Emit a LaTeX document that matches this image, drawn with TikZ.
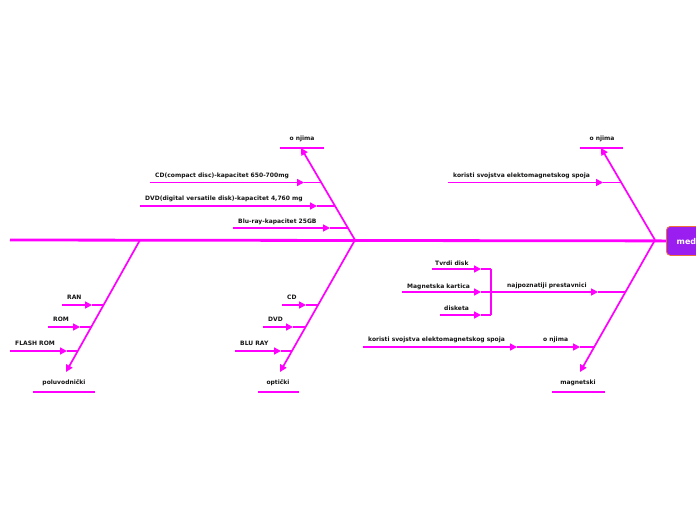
\documentclass[tikz,border=0pt]{standalone}
\usepackage{fontspec}
\usetikzlibrary{arrows.meta}
\newfontfamily\lblfont{DejaVu Sans}
\definecolor{bonecol}{RGB}{255,0,255}
\definecolor{txtcol}{RGB}{20,20,20}
\definecolor{nodefill}{RGB}{155,30,240}
\definecolor{nodeedge}{RGB}{240,110,60}
\tikzset{
  spine/.style={bonecol, line width=2.8pt},
  bone/.style={bonecol, line width=1.7pt},
  twig/.style={bonecol, line width=1.5pt},
  tipped/.style={-{Triangle[length=7pt,width=7pt]}},
  lbl/.style={font=\lblfont\bfseries\fontsize{6}{7}\selectfont, text=txtcol, inner sep=0pt, anchor=base west},
  clbl/.style={lbl, anchor=base},
  topic/.style={rectangle, rounded corners=4pt, fill=nodefill, draw=nodeedge, line width=0.8pt, minimum height=29pt, minimum width=54pt, inner sep=0pt}
}
\begin{document}
\begin{tikzpicture}[x=1pt,y=-1pt]
\useasboundingbox (0,0) rectangle (696,520);
\clip (0,0) rectangle (696,520);
% central topic
\node[topic, anchor=north west] (center) at (666,226) {};
\node[font=\lblfont\bfseries\fontsize{8}{10}\selectfont, text=white, inner sep=0pt, anchor=base west] (centertxt) at (676.5,244.5) {med};
% spine
\coordinate (spineL) at (10,240);
\draw[spine] (spineL) -- (center.west);
% bone anchors
\coordinate (S1) at (355,240); \coordinate (T1) at (301,148);
\coordinate (S2) at (655,240); \coordinate (T2) at (601,148);
\coordinate (S3) at (140,240); \coordinate (T3) at (66,372);
\coordinate (S4) at (355,240); \coordinate (T4) at (280,372);
\coordinate (S5) at (655,240); \coordinate (T5) at (580,372);
\draw[bone,tipped] (S1) -- (T1);
\draw[bone,tipped] (S2) -- (T2);
\draw[bone,tipped] (S3) -- (T3);
\draw[bone,tipped] (S4) -- (T4);
\draw[bone,tipped] (S5) -- (T5);
% heads (underlines + labels)
\node[clbl] (h1) at (302,140.5) {o njima};
\coordinate (u1a) at (280,148); \coordinate (u1b) at (324,148);
\draw[twig] (u1a) -- (u1b);
\node[clbl] (h2) at (602,140.5) {o njima};
\coordinate (u2a) at (580,148); \coordinate (u2b) at (623,148);
\draw[twig] (u2a) -- (u2b);
\node[clbl] (h3) at (64,384.5) {poluvodnički};
\coordinate (u3a) at (33,392); \coordinate (u3b) at (95,392);
\draw[twig] (u3a) -- (u3b);
\node[clbl] (h4) at (278,384.5) {optički};
\coordinate (u4a) at (258,392); \coordinate (u4b) at (299,392);
\draw[twig] (u4a) -- (u4b);
\node[clbl] (h5) at (578,384.5) {magnetski};
\coordinate (u5a) at (552,392); \coordinate (u5b) at (605,392);
\draw[twig] (u5a) -- (u5b);
% upper optical twigs
\coordinate (a1) at (150,182.5); \coordinate (a1t) at (304,182.5); \coordinate (a1e) at (321,182.5);
\draw[twig,tipped] (a1) -- (a1t); \draw[twig] (a1t) -- (a1e);
\node[lbl] (la1) at (155,177.5) {CD(compact disc)-kapacitet 650-700mg};
\coordinate (a2) at (140,206); \coordinate (a2t) at (317,206); \coordinate (a2e) at (335,206);
\draw[twig,tipped] (a2) -- (a2t); \draw[twig] (a2t) -- (a2e);
\node[lbl] (la2) at (145,200.5) {DVD(digital versatile disk)-kapacitet 4,760 mg};
\coordinate (a3) at (233,228); \coordinate (a3t) at (330,228); \coordinate (a3e) at (348,228);
\draw[twig,tipped] (a3) -- (a3t); \draw[twig] (a3t) -- (a3e);
\node[lbl] (la3) at (238,223.5) {Blu-ray-kapacitet 25GB};
% upper magnetic twig
\coordinate (b1) at (448,182.5); \coordinate (b1t) at (603,182.5); \coordinate (b1e) at (621,182.5);
\draw[twig,tipped] (b1) -- (b1t); \draw[twig] (b1t) -- (b1e);
\node[lbl] (lb1) at (453,177.5) {koristi svojstva elektomagnetskog spoja};
% semiconductor twigs
\coordinate (c1) at (62,305); \coordinate (c1t) at (92,305); \coordinate (c1e) at (103.6,305);
\draw[twig,tipped] (c1) -- (c1t); \draw[twig] (c1t) -- (c1e);
\node[lbl] (lc1) at (67,299.5) {RAN};
\coordinate (c2) at (48,327); \coordinate (c2t) at (80,327); \coordinate (c2e) at (91.3,327);
\draw[twig,tipped] (c2) -- (c2t); \draw[twig] (c2t) -- (c2e);
\node[lbl] (lc2) at (53,321.5) {ROM};
\coordinate (c3) at (10,351); \coordinate (c3t) at (67,351); \coordinate (c3e) at (77.8,351);
\draw[twig,tipped] (c3) -- (c3t); \draw[twig] (c3t) -- (c3e);
\node[lbl] (lc3) at (15,345.5) {FLASH ROM};
% lower optical twigs
\coordinate (d1) at (282,305); \coordinate (d1t) at (306,305); \coordinate (d1e) at (318,305);
\draw[twig,tipped] (d1) -- (d1t); \draw[twig] (d1t) -- (d1e);
\node[lbl] (ld1) at (287,299.5) {CD};
\coordinate (d2) at (263,327); \coordinate (d2t) at (293,327); \coordinate (d2e) at (305.6,327);
\draw[twig,tipped] (d2) -- (d2t); \draw[twig] (d2t) -- (d2e);
\node[lbl] (ld2) at (268,321.5) {DVD};
\coordinate (d3) at (235,351); \coordinate (d3t) at (281,351); \coordinate (d3e) at (292,351);
\draw[twig,tipped] (d3) -- (d3t); \draw[twig] (d3t) -- (d3e);
\node[lbl] (ld3) at (240,345.5) {BLU RAY};
% lower magnetic twigs
\coordinate (e1) at (491,292); \coordinate (e1t) at (598,292); \coordinate (e1e) at (625.5,292);
\draw[twig,tipped] (e1) -- (e1t); \draw[twig] (e1t) -- (e1e);
\node[lbl] (le1) at (507,287.5) {najpoznatiji prestavnici};
\coordinate (brT) at (491,269); \coordinate (brB) at (491,315);
\draw[twig] (brT) -- (brB);
\coordinate (f1) at (432,269); \coordinate (f1t) at (481,269);
\draw[twig,tipped] (f1) -- (f1t); \draw[twig] (f1t) -- (brT);
\node[lbl] (lf1) at (435,265.5) {Tvrdi disk};
\coordinate (f2) at (402,292); \coordinate (f2t) at (481,292);
\draw[twig,tipped] (f2) -- (f2t); \draw[twig] (f2t) -- (e1);
\node[lbl] (lf2) at (407,288) {Magnetska kartica};
\coordinate (f3) at (440,315); \coordinate (f3t) at (481,315);
\draw[twig,tipped] (f3) -- (f3t); \draw[twig] (f3t) -- (brB);
\node[lbl] (lf3) at (444,310.5) {disketa};
\coordinate (g1) at (520,347); \coordinate (g1t) at (580,347); \coordinate (g1e) at (594.2,347);
\draw[twig,tipped] (g1) -- (g1t); \draw[twig] (g1t) -- (g1e);
\node[lbl] (lg1) at (543,341.5) {o njima};
\coordinate (g2) at (363,347); \coordinate (g2t) at (517,347);
\draw[twig,tipped] (g2) -- (g2t); \draw[twig] (g2t) -- (g1);
\node[lbl] (lg2) at (368,341.5) {koristi svojstva elektomagnetskog spoja};
\end{tikzpicture}
\end{document}
